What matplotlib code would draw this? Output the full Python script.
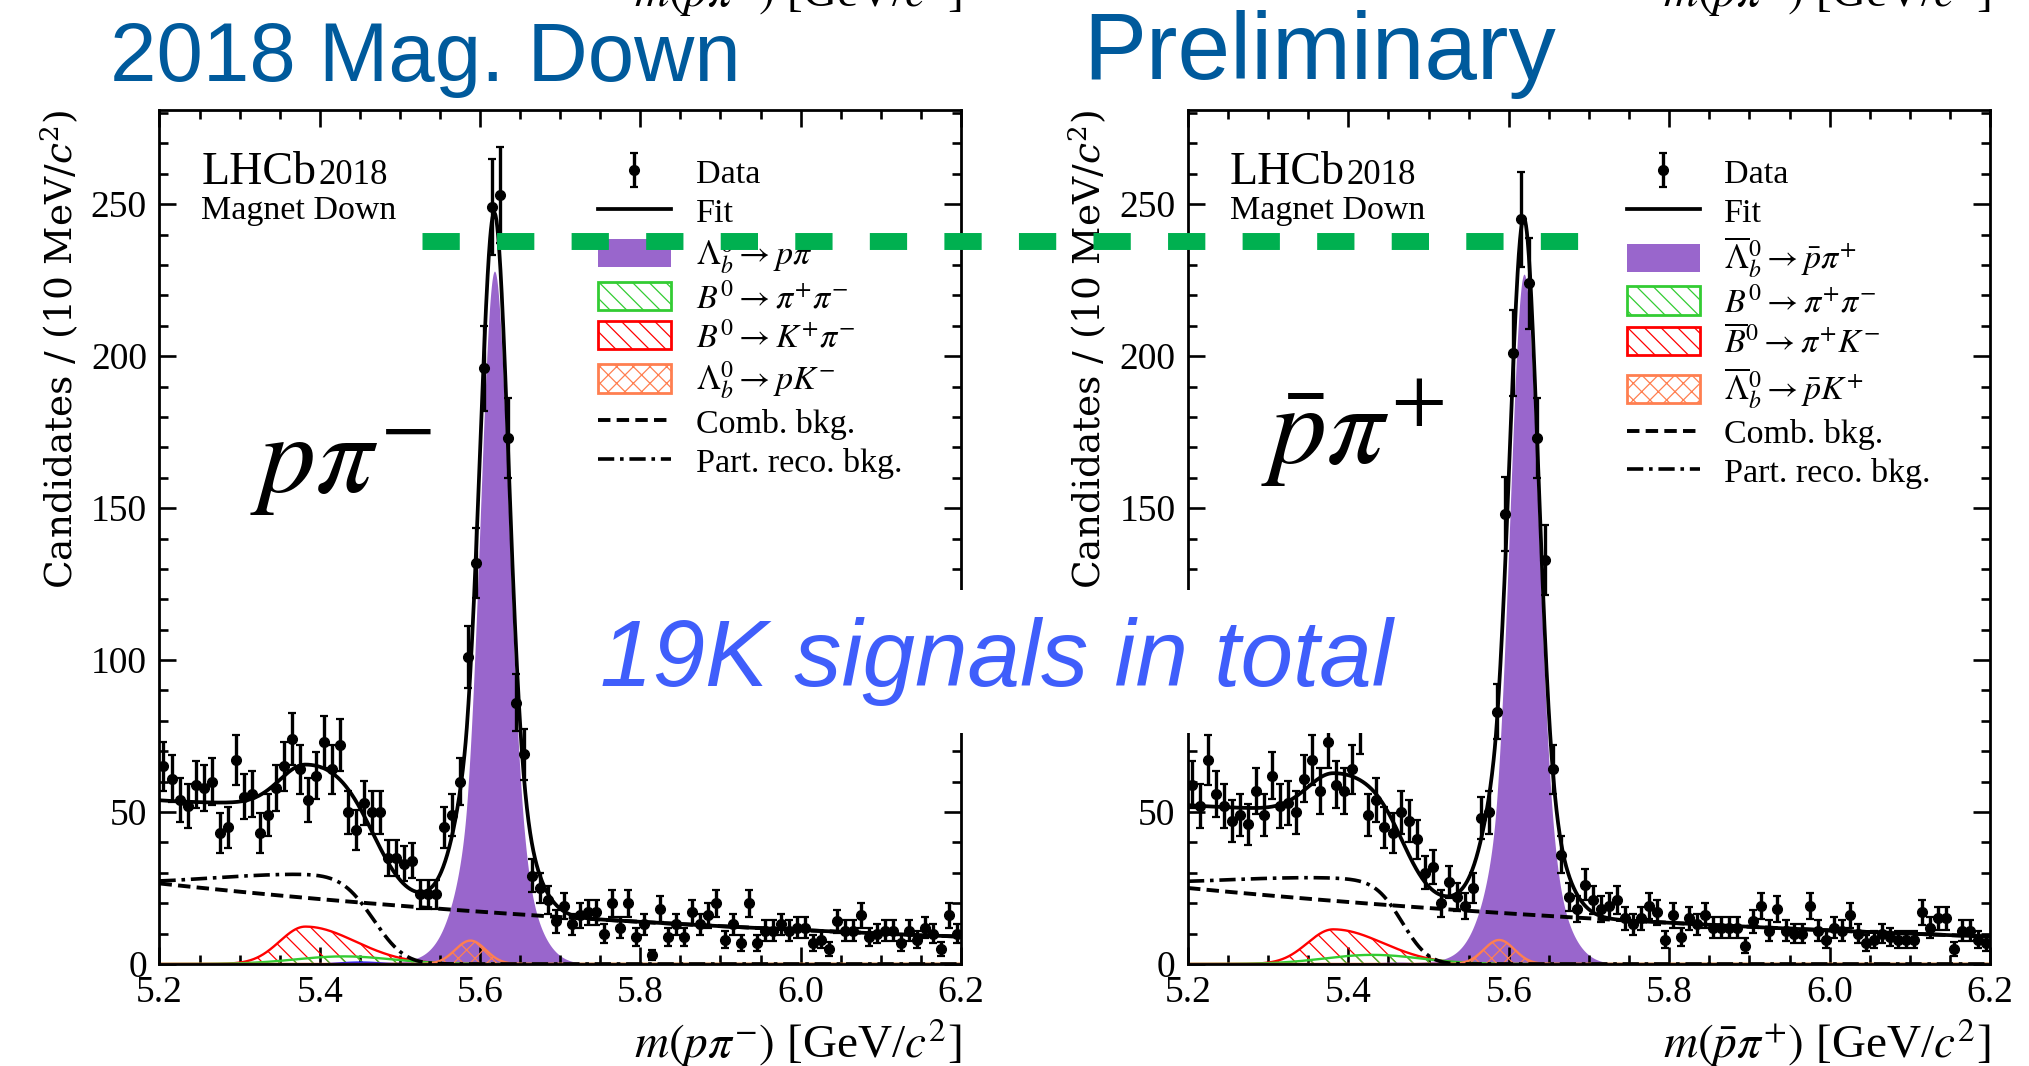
import numpy as np
import matplotlib
matplotlib.use("Agg")
import matplotlib.pyplot as plt
from matplotlib.patches import Patch
from matplotlib.lines import Line2D
from matplotlib.ticker import MultipleLocator, FormatStrFormatter
from matplotlib import transforms

plt.rcParams['font.family'] = ['Liberation Serif', 'DejaVu Serif']
plt.rcParams['mathtext.fontset'] = 'stix'
plt.rcParams['hatch.linewidth'] = 0.9

# ---------------------------------------------------------------- data
mass_range = (5.2, 6.2)
bin_width = 0.01
mass_centres = np.round(np.arange(5.205, 6.2, bin_width), 3)

counts_p_pim = [
    65, 61, 54, 52, 59, 58, 60, 43, 45, 67,
    55, 56, 43, 49, 58, 65, 74, 64, 54, 62,
    73, 64, 72, 50, 44, 53, 50, 50, 35, 35,
    33, 34, 23, 23, 23, 45, 49, 60, 101, 132,
    196, 249, 253, 173, 86, 69, 29, 25, 21, 14,
    19, 13, 16, 17, 17, 10, 20, 12, 20, 9,
    13, 3, 18, 9, 13, 9, 17, 13, 16, 20,
    8, 13, 7, 20, 7, 11, 11, 13, 11, 12,
    12, 7, 8, 5, 14, 11, 11, 16, 9, 10,
    11, 11, 7, 11, 8, 12, 10, 5, 16, 10,
]

counts_pbar_pip = [
    59, 52, 67, 56, 52, 47, 49, 46, 57, 49,
    62, 52, 53, 50, 61, 67, 57, 73, 59, 57,
    64, 78, 49, 54, 45, 43, 50, 47, 41, 30,
    32, 20, 27, 22, 19, 25, 48, 50, 83, 148,
    201, 245, 224, 173, 133, 64, 36, 22, 18, 26,
    21, 18, 19, 21, 15, 13, 15, 19, 17, 8,
    16, 9, 15, 13, 16, 12, 12, 12, 12, 6,
    14, 19, 11, 18, 11, 10, 10, 19, 11, 8,
    12, 11, 16, 10, 7, 8, 10, 9, 8, 8,
    8, 17, 12, 15, 15, 5, 11, 11, 8, 7,
]

# fit-model parameters, [p pi-, pbar pi+]
signal_height = [228, 227]
signal_mean = [5.618, 5.619]
signal_core_sigma = [0.017, 0.017]
signal_wide_sigma = [0.034, 0.034]
signal_core_frac = [0.78, 0.78]
kpi_height = [12.3, 11.4]
kpi_mean = [5.382, 5.381]
kpi_sigma_low = [0.032, 0.032]
kpi_sigma_high = [0.062, 0.062]
pipi_height = [2.5, 3.0]
pipi_mean = [5.43, 5.43]
pipi_sigma = [0.06, 0.06]
other_height = [1.0, 0.6]
other_mean = [5.45, 5.46]
other_sigma = [0.035, 0.035]
pk_height = [7.7, 7.9]
pk_mean = [5.588, 5.588]
pk_sigma = [0.019, 0.019]
comb_at_low_edge = [26.5, 25.0]
comb_slope = [1.08, 1.02]
partreco_peak = [29.5, 28.4]
partreco_endpoint = [5.47, 5.47]
partreco_power = [0.1, 0.1]
partreco_shape = [-2.6, -1.9]
partreco_resolution = [0.030, 0.025]

panel_labels = [r'$p\pi^{-}$', r'$\bar{p}\pi^{+}$']
axis_titles = [r'$m(p\pi^{-})$ [GeV/$c^{2}$]', r'$m(\bar{p}\pi^{+})$ [GeV/$c^{2}$]']
legend_labels = [
    ['Data', 'Fit', r'$\Lambda_b^0\rightarrow p\pi^{-}$', r'$B^0\rightarrow\pi^{+}\pi^{-}$',
     r'$B^0\rightarrow K^{+}\pi^{-}$', r'$\Lambda_b^0\rightarrow pK^{-}$',
     'Comb. bkg.', 'Part. reco. bkg.'],
    ['Data', 'Fit', r'$\overline{\Lambda}_b^0\rightarrow \bar{p}\pi^{+}$', r'$B^0\rightarrow\pi^{+}\pi^{-}$',
     r'$\overline{B}^0\rightarrow \pi^{+}K^{-}$', r'$\overline{\Lambda}_b^0\rightarrow \bar{p}K^{+}$',
     'Comb. bkg.', 'Part. reco. bkg.'],
]
reference_level = 238

# ---------------------------------------------------------------- shapes
def gauss(m, mu, s):
    return np.exp(-0.5 * ((m - mu) / s) ** 2)


def crystal_ball(m, mu, s, alpha=2.0, n=2.0):
    t = (m - mu) / s
    a = (n / alpha) ** n * np.exp(-0.5 * alpha ** 2)
    b = n / alpha - alpha
    out = np.exp(-0.5 * t ** 2)
    low = t < -alpha
    out[low] = a * (b - t[low]) ** (-n)
    return out


def bifurcated(m, h, mu, sl, sr):
    return h * np.where(m < mu, gauss(m, mu, sl), gauss(m, mu, sr))


def argus_smeared(m, peak, endpoint, power, c, resolution):
    u = np.clip(1 - (m / endpoint) ** 2, 0, None)
    raw = m * u ** power * np.exp(c * u)
    step = m[1] - m[0]
    half = int(4 * resolution / step)
    kernel = gauss(np.arange(-half, half + 1) * step, 0.0, resolution)
    kernel /= kernel.sum()
    padded = np.pad(raw, half, mode='edge')
    f = np.convolve(padded, kernel, mode='valid')
    return peak * f / f.max()


colors = dict(signal='#9966CC', pipi='#33CC33', kpi='#FF0000', pk='#FF7F50', other='#0000FF')
comb_style = (0, (3.2, 1.6))
preco_style = (0, (4.5, 1.6, 1.0, 1.6))

fig = plt.figure(figsize=(20.29, 10.66), dpi=100)
axes = [fig.add_axes([0.0786, 0.0957, 0.3950, 0.8011]),
        fig.add_axes([0.5855, 0.0957, 0.3953, 0.8011])]

m = np.linspace(mass_range[0], mass_range[1], 2001)
all_counts = [counts_p_pim, counts_pbar_pip]

for k, ax in enumerate(axes):
    counts = np.array(all_counts[k], dtype=float)
    sig = signal_height[k] * (signal_core_frac[k] * crystal_ball(m, signal_mean[k], signal_core_sigma[k])
                              + (1 - signal_core_frac[k]) * gauss(m, signal_mean[k], signal_wide_sigma[k]))
    kpi = bifurcated(m, kpi_height[k], kpi_mean[k], kpi_sigma_low[k], kpi_sigma_high[k])
    pipi = pipi_height[k] * gauss(m, pipi_mean[k], pipi_sigma[k])
    other = other_height[k] * gauss(m, other_mean[k], other_sigma[k])
    pk = pk_height[k] * gauss(m, pk_mean[k], pk_sigma[k])
    comb = comb_at_low_edge[k] * np.exp(-comb_slope[k] * (m - mass_range[0]))
    preco = argus_smeared(m, partreco_peak[k], partreco_endpoint[k], partreco_power[k],
                          partreco_shape[k], partreco_resolution[k])
    total = sig + kpi + pipi + other + pk + comb + preco

    ax.fill_between(m, 0, sig, color=colors['signal'], lw=0, zorder=1)
    ax.fill_between(m, 0, kpi, facecolor='none', edgecolor=colors['kpi'], hatch='\\\\', lw=0, zorder=2)
    ax.plot(m, kpi, color=colors['kpi'], lw=1.7, zorder=2)
    ax.fill_between(m, 0, pipi, facecolor='none', edgecolor=colors['pipi'], hatch='\\\\', lw=0, zorder=2)
    ax.plot(m, pipi, color=colors['pipi'], lw=1.7, zorder=2)
    ax.fill_between(m, 0, other, color=colors['other'], lw=0, zorder=2)
    ax.fill_between(m, 0, pk, facecolor='none', edgecolor=colors['pk'], hatch='xx', lw=0, zorder=2)
    ax.plot(m, pk, color=colors['pk'], lw=1.7, zorder=2)
    ax.plot(m, comb, color='black', lw=2.8, ls=comb_style, zorder=3)
    ax.plot(m, preco, color='black', lw=2.6, ls=preco_style, zorder=3)
    ax.plot(m, total, color='black', lw=2.7, zorder=4)
    data = ax.errorbar(mass_centres, counts, yerr=np.sqrt(counts), fmt='o', color='black',
                       ms=7, elinewidth=2.4, capsize=3.0, capthick=1.6, zorder=6)

    ax.set_xlim(*mass_range)
    ax.set_ylim(0, 281)
    ax.xaxis.set_major_locator(MultipleLocator(0.2))
    ax.xaxis.set_minor_locator(MultipleLocator(0.05))
    ax.yaxis.set_major_locator(MultipleLocator(50))
    ax.yaxis.set_minor_locator(MultipleLocator(10))
    ax.xaxis.set_major_formatter(FormatStrFormatter('%.1f'))
    ax.tick_params(which='both', direction='in', top=True, right=True, width=1.9, labelsize=27)
    ax.tick_params(which='major', length=12)
    ax.tick_params(which='minor', length=6.5)
    ax.tick_params(axis='x', pad=8)
    ax.tick_params(axis='y', pad=9)
    for sp in ax.spines.values():
        sp.set_linewidth(2.0)

    ax.set_ylabel(r'Candidates / (10 MeV/$c^2$)', loc='top', fontsize=27,
                  fontfamily='DejaVu Serif', math_fontfamily='dejavuserif', labelpad=7)
    xlab_tr = transforms.blended_transform_factory(ax.transAxes, fig.transFigure)
    ax.text(1.0, 1 - 1058 / 1066, axis_titles[k], transform=xlab_tr, ha='right',
            va='baseline', fontsize=34)
    # clipped title of the panel row above
    fig.text(ax.get_position().x1, 1 - 7 / 1066, axis_titles[k], ha='right',
             va='baseline', fontsize=34)

    ax.text(0.052, 0.9128, 'LHCb', transform=ax.transAxes, fontsize=33, va='baseline')
    ax.text(0.198, 0.9128, '2018', transform=ax.transAxes, fontsize=25, va='baseline')
    ax.text(0.052, 0.8724, 'Magnet Down', transform=ax.transAxes, fontsize=24.5, va='baseline')
    big_pos = [(0.113, 0.5515), (0.091, 0.5855)][k]
    ax.text(big_pos[0], big_pos[1], panel_labels[k], transform=ax.transAxes,
            fontsize=82, va='baseline')

    handles = [
        data,
        Line2D([], [], color='black', lw=2.7),
        Patch(facecolor=colors['signal'], edgecolor='none'),
        Patch(facecolor='none', edgecolor=colors['pipi'], hatch='\\\\', lw=2),
        Patch(facecolor='none', edgecolor=colors['kpi'], hatch='\\\\', lw=2),
        Patch(facecolor='none', edgecolor=colors['pk'], hatch='xx', lw=2),
        Line2D([], [], color='black', lw=2.8, ls=comb_style),
        Line2D([], [], color='black', lw=2.6, ls=preco_style),
    ]
    ax.legend(handles, legend_labels[k], loc='upper left', bbox_to_anchor=(0.547, 0.945),
              frameon=False, fontsize=24.5, handlelength=2.15, handleheight=0.9,
              handletextpad=0.72, labelspacing=0.18, borderpad=0, borderaxespad=0)

# headline texts
fig.text(110 / 2029, 1 - 81 / 1066, '2018 Mag. Down', fontsize=60, family='Liberation Sans',
         color='#005A9C', ha='left', va='baseline')
fig.text(1083 / 2029, 1 - 79 / 1066, 'Preliminary', fontsize=68, family='Liberation Sans',
         color='#005A9C', ha='left', va='baseline')
fig.text(996 / 2029, 1 - 686 / 1066, '19K signals in total', fontsize=68, family='Liberation Sans',
         style='italic', color='#3F5EFB', ha='center', va='baseline', zorder=20,
         bbox=dict(facecolor='white', edgecolor='none', pad=20))

# dashed reference level across both panels
ref_tr = transforms.blended_transform_factory(fig.transFigure, axes[0].transData)
fig.add_artist(Line2D([422 / 2029, 1579 / 2029], [reference_level, reference_level],
                      transform=ref_tr, color='#00B050', lw=12.2, ls=(0, (2.2, 2.2)),
                      dash_capstyle='butt', zorder=30))

fig.savefig('out.png', dpi=100)
